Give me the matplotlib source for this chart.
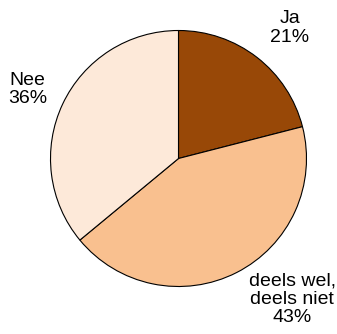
import matplotlib
matplotlib.use("Agg")
import matplotlib.pyplot as plt

labels = ["Ja", "deels wel,\ndeels niet", "Nee"]
values = [21, 43, 36]
colors = ["#984807", "#f9c08f", "#fde9d9"]

plt.rcParams["font.family"] = ["Liberation Sans", "DejaVu Sans"]

fig = plt.figure(figsize=(3.37, 3.34), dpi=100)
ax = fig.add_axes([0, 0, 1, 1])

ax.pie(values, colors=colors, startangle=90, counterclock=False,
       wedgeprops=dict(edgecolor="black", linewidth=0.8))

# label positions in data units (radius = 1)
label_pos = [(0.87, 1.02), (0.89, -1.10), (-1.18, 0.54)]
for lab, val, (x, y) in zip(labels, values, label_pos):
    ax.text(x, y, "%s\n%d%%" % (lab, val), ha="center", va="center",
            multialignment="center", fontsize=14, linespacing=1.12)

ax.set_xlim(-178.5 / 128, 158.5 / 128)
ax.set_ylim((158.5 - 334) / 128, 158.5 / 128)
ax.set_aspect("auto")
ax.axis("off")

fig.savefig("out.png", dpi=100)
